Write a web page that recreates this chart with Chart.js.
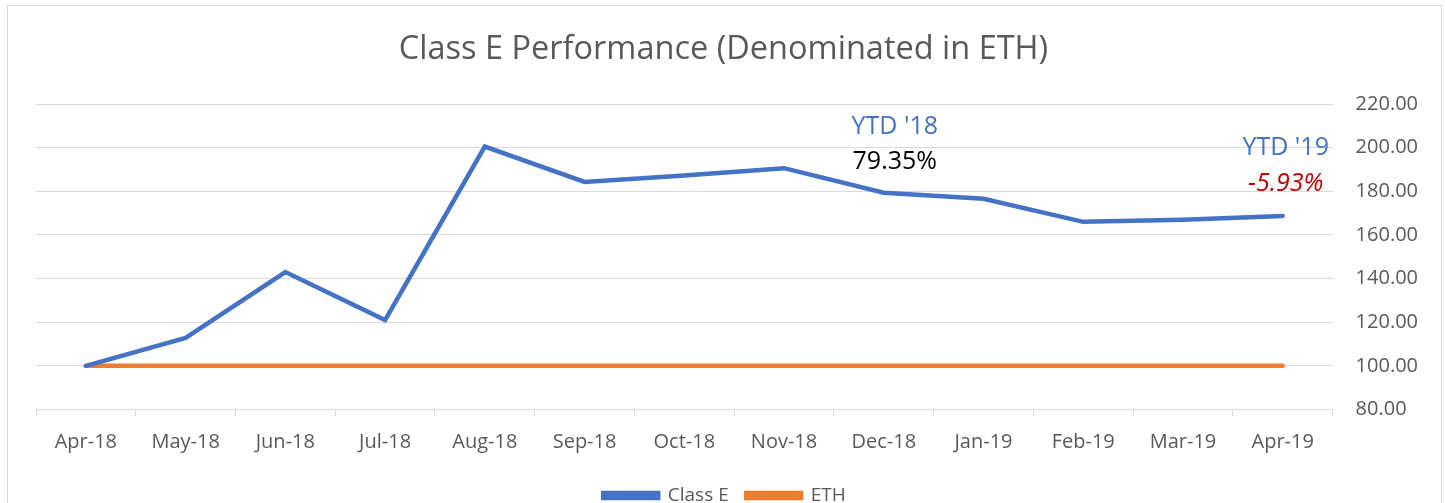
<!DOCTYPE html>
<html>
<head>
<meta charset="utf-8">
<script src="https://cdn.jsdelivr.net/npm/chart.js@4.4.1/dist/chart.umd.min.js"></script>
<style>
  body { margin: 0; background: #fff; }
  #frame { position: absolute; left: 7px; top: 5px; width: 1433px; height: 515px; border: 1px solid #d9d9d9; }
  #myChart { display: block; }
</style>
</head>
<body>
<div id="frame"><canvas id="myChart" width="1433" height="509"></canvas></div>
<script>
const months = ['Apr-18', 'May-18', 'Jun-18', 'Jul-18', 'Aug-18', 'Sep-18', 'Oct-18',
    'Nov-18', 'Dec-18', 'Jan-19', 'Feb-19', 'Mar-19', 'Apr-19']
const classE = [100, 112.8, 143.0, 121.0, 200.5, 184.3, 187.2, 190.6, 179.35, 176.6, 166.0, 166.9, 168.71]
const eth = [100, 100, 100, 100, 100, 100, 100, 100, 100, 100, 100, 100, 100]

// notes drawn on top of the chart: [category index, y value, text, colour, italic]
const notes = [
    [8, 209.5, "YTD '18", '#4472C4', false],
    [8, 193.5, '79.35%', '#000000', false],
    [12, 199.8, "YTD '19", '#4472C4', false],
    [12, 183.4, '-5.93%', '#C00000', true]
]

const fontFamily = "'Open Sans', sans-serif"
const grey = '#595959'

const notesPlugin = {
    id: 'notes',
    afterDatasetsDraw(chart) {
        const {ctx, scales} = chart
        ctx.save()
        ctx.textBaseline = 'middle'
        ctx.textAlign = 'center'
        notes.forEach(([i, v, text, color, italic]) => {
            ctx.font = (italic ? 'italic ' : '') + '25px ' + fontFamily
            ctx.fillStyle = color
            const shift = i === 8 ? 11 : 3
            ctx.fillText(text, scales.x.getPixelForValue(i) + shift, scales.y.getPixelForValue(v))
        })
        // chart title, centred on the whole frame
        ctx.font = '32.5px ' + fontFamily
        ctx.fillStyle = grey
        ctx.fillText('Class E Performance (Denominated in ETH)', chart.width / 2 - 1, 44)
        ctx.restore()
    }
}

const canvas = document.getElementById('myChart')
const config = {
    type: 'line',
    data: {
        labels: months,
        datasets: [{
            label: 'Class E',
            data: classE,
            yAxisID: 'y',
            borderColor: '#4472C4',
            backgroundColor: '#4472C4',
            borderWidth: 4.5,
            borderCapStyle: 'round',
            pointRadius: 0,
            tension: 0
        }, {
            label: 'ETH',
            data: eth,
            yAxisID: 'y',
            borderColor: '#ED7D31',
            backgroundColor: '#ED7D31',
            borderWidth: 4.5,
            borderCapStyle: 'round',
            pointRadius: 0
        }]
    },
    options: {
        responsive: false,
        animation: false,
        layout: {
            padding: {left: 0, right: 0, top: 98, bottom: 0}
        },
        scales: {
            x: {
                offset: true,
                grid: {offset: true, drawOnChartArea: false, drawTicks: true, tickLength: 7, color: '#d9d9d9'},
                border: {color: '#d9d9d9'},
                ticks: {color: grey, font: {family: fontFamily, size: 20}, padding: 14}
            },
            y: {
                position: 'right',
                min: 80,
                max: 220,
                ticks: {
                    stepSize: 20,
                    color: grey,
                    padding: 23,
                    font: {family: fontFamily, size: 20},
                    callback: v => v.toFixed(2)
                },
                grid: {color: '#d9d9d9', drawTicks: false},
                border: {display: false}
            },
            // empty left axis, only keeps the plot away from the left border
            spacer: {
                type: 'linear',
                position: 'left',
                grid: {display: false},
                ticks: {display: false},
                border: {display: false},
                afterFit: s => { s.width = 28 }
            }
        },
        plugins: {
            title: {display: false},
            legend: {
                position: 'bottom',
                labels: {
                    color: grey,
                    font: {family: fontFamily, size: 19},
                    boxWidth: 55,
                    boxHeight: 5,
                    padding: 17.5
                }
            },
            tooltip: {enabled: false}
        }
    },
    plugins: [notesPlugin]
}

const myChart = new Chart(canvas, config)
</script>
</body>
</html>
